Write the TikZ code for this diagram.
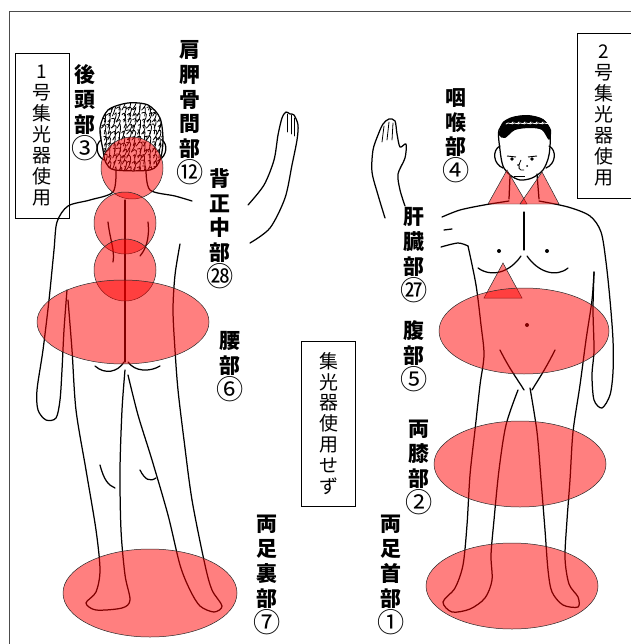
\documentclass[tikz,border=0pt]{standalone}
\usepackage{graphicx}
\usepackage{fontspec}
\newfontfamily\cjk{Noto Sans CJK JP}
\newcommand\maru[1]{\scalebox{1.3}{\mdseries #1}}
\tikzset{
	spot/.style={fill=red, fill opacity=0.5, draw=black!85, line width=0.5pt},
	body/.style={line width=1.25pt, line cap=round, line join=round},
	curl/.style={line width=0.8pt, line cap=round},
	part/.style={anchor=north, font=\cjk\bfseries\fontsize{21}{25}\selectfont, align=center, inner sep=0pt},
	lamp/.style={draw, line width=0.7pt, minimum width=54bp, minimum height=165bp, font=\cjk\fontsize{19}{21}\selectfont, align=center, inner sep=0pt}
}
\begin{document}
\begin{tikzpicture}[x=1bp, y=-1bp]
		%%%%% START %%%%%
		\useasboundingbox (0, 0) rectangle (631, 644);
		\draw[line width=0.8pt, color=black!70] (9, 644) -- (9, 11) -- (631, 11);
		\pgfmathsetseed{17}
		
		%%%%% back view %%%%%
		\draw[body] plot[smooth cycle] coordinates {(103,150) (100,128) (108,110) (128,103) (148,105) (160,118) (163,140) (160,160) (150,170) (115,170) (106,163)};
		\begin{scope}
			\clip plot[smooth cycle] coordinates {(103,150) (100,128) (108,110) (128,103) (148,105) (160,118) (163,140) (160,160) (150,170) (115,170) (106,163)};
			\foreach \x in {98,103,...,164}
				\foreach \y in {102,108,...,172}
					\draw[curl] ({\x+2*rand}, {\y+2*rand}) .. controls ({\x+4+2*rand}, \y-4) and ({\x+3+2*rand}, \y+3) .. ({\x+2*rand}, \y+8);
		\end{scope}
		\draw[body] (101, 140) .. controls (95, 144) and (96, 156) .. (104, 160);
		\draw[body] (162, 140) .. controls (168, 144) and (167, 156) .. (159, 160);
		
		\draw[body] plot[smooth] coordinates {(116,170) (113,192) (90,200) (68,206) (57,222) (54,250) (49,300) (43,350) (37,390) (38,410) (46,420) (56,418) (60,400) (62,370) (64,330) (67,290)};
		\draw[body] plot[smooth] coordinates {(146,170) (150,190) (175,196) (192,201)};
		\draw[body] plot[smooth] coordinates {(180,244) (175,275) (173,310) (175,350) (178,390) (184,440) (192,500) (205,565) (212,590) (222,606) (214,612) (200,606) (190,590) (180,565) (168,515) (152,460) (138,415) (128,375)};
		\draw[body] plot[smooth] coordinates {(68,300) (72,350) (76,410) (86,470) (96,530) (100,570) (96,592) (86,603) (96,610) (122,608) (130,600) (125,575) (121,530) (120,470) (122,410) (125,370)};
		\draw[body] (125, 200) -- (125, 362);
		\draw[body] (95, 366) .. controls (105, 375) and (118, 372) .. (124, 362);
		\draw[body] (128, 362) .. controls (135, 372) and (150, 372) .. (160, 366);
		\draw[body] (108, 222) .. controls (110, 240) and (115, 250) .. (113, 262);
		\draw[body] (148, 222) .. controls (150, 240) and (145, 250) .. (140, 256);
		\draw[body] (100, 465) .. controls (104, 480) and (108, 485) .. (115, 488);
		\draw[body] (140, 470) .. controls (145, 480) and (150, 482) .. (156, 478);
		
		\draw[body] plot[smooth] coordinates {(250,243) (270,228) (285,198) (292,165) (297,140) (298,125) (294,115) (290,114) (286,112) (282,118) (278,135) (274,160) (264,185) (248,205)};
		\draw[curl] (287, 114) -- (287, 132) (291, 115) -- (291, 134) (294, 118) -- (294, 136);
		
		%%%%% front view %%%%%
		\draw[body] plot[smooth cycle] coordinates {(500,150) (499,130) (510,119) (526,116) (543,120) (550,132) (549,155) (543,170) (532,178) (520,180) (510,175) (503,166)};
		\fill plot[smooth cycle] coordinates {(499,135) (502,123) (512,117) (528,115) (543,119) (551,130) (549,140) (542,130) (530,128) (515,130) (505,138)};
		\foreach \x in {506,512,...,542}
			\draw[curl, white] (\x, 124) .. controls (\x+3, 121) and (\x+5, 126) .. (\x+7, 122);
		\draw[body] (500, 146) .. controls (492, 150) and (493, 164) .. (503, 168);
		\draw[body] (549, 146) .. controls (557, 150) and (556, 164) .. (546, 168);
		\draw[line width=0.9pt] (507, 156) -- (516, 157) (528, 157) -- (537, 156);
		\fill (512, 159) circle (1.8) (532, 159) circle (1.8);
		\draw[line width=0.8pt] (521, 160) .. controls (517, 168) and (519, 171) .. (524, 170);
		\fill (518, 165) circle (1) (527, 166) circle (1);
		\draw[line width=0.9pt] (514, 176) -- (525, 176);
		
		\draw[body] (510, 176) -- (509, 199);
		\draw[body] (537, 174) -- (539, 199);
		\draw[body] plot[smooth] coordinates {(509,201) (484,205) (460,210) (442,217)};
		\draw[body] (444, 230) -- (452, 229);
		\draw[body] plot[smooth] coordinates {(441,247) (458,243) (468,246)};
		\draw[body] plot[smooth] coordinates {(539,201) (568,207) (590,216) (601,232) (606,262) (610,300) (613,340) (613,372) (610,395) (602,408) (594,400) (592,375) (594,350) (593,310) (594,272)};
		\draw[body] plot[smooth] coordinates {(468,246) (476,285) (481,325) (484,355) (480,385) (475,430) (470,475) (467,525) (463,565) (455,588) (443,602) (452,612) (470,609) (485,598) (492,580) (491,555) (494,520) (499,470) (506,425) (518,390)};
		\draw[body] plot[smooth] coordinates {(530,388) (537,432) (541,480) (545,530) (548,570) (552,592) (563,605) (578,607) (578,597) (569,584) (565,558) (567,520) (570,480) (573,432) (580,385) (586,340) (592,300) (594,272)};
		\draw[body] (524, 212) -- (524, 250);
		\draw[body] (478, 268) .. controls (492, 278) and (510, 272) .. (521, 256);
		\draw[body] (527, 256) .. controls (538, 272) and (556, 278) .. (568, 268);
		\fill (499, 251) circle (2) (547, 251) circle (2) (527, 325) circle (2);
		\draw[body] (500, 350) .. controls (510, 370) and (518, 380) .. (524, 390);
		\draw[body] (555, 350) .. controls (545, 370) and (538, 380) .. (532, 390);
		
		\draw[body] plot[smooth] coordinates {(385,218) (378,195) (372,172) (373,150) (378,135) (383,124) (389,119) (395,121) (397,134) (400,147) (406,144) (405,158) (398,174) (400,190) (405,206)};
		\draw[curl] (384, 126) -- (382, 142) (389, 122) -- (387, 140) (393, 123) -- (392, 140);
		
		%%%%% spots %%%%%
		\draw[spot] (132, 168) circle (31);
		\draw[spot] (125, 223) circle (31);
		\draw[spot] (125, 270) circle (31);
		\draw[spot] (123, 322) ellipse (86 and 42);
		\draw[spot] (150, 593) ellipse (87 and 44);
		
		\draw[spot] (488, 204) -- (507, 170) -- (527, 204) -- cycle;
		\draw[spot] (520, 204) -- (542, 172) -- (559, 204) -- cycle;
		\draw[spot] (484, 298) -- (503, 263) -- (522, 298) -- cycle;
		\draw[spot] (524, 331) ellipse (85 and 43);
		\draw[spot] (520, 464) ellipse (86 and 43);
		\draw[spot] (512, 586) ellipse (86 and 43);
		
		%%%%% labels %%%%%
		\node[part] (occiput) at (85, 64) {後\\頭\\部\\\maru{③}};
		\node[part] (scapula) at (190, 40) {肩\\胛\\骨\\間\\部\\\maru{⑫}};
		\node[part] (spine) at (220, 168) {背\\正\\中\\部\\\maru{㉘}};
		\node[part] (lumbar) at (230, 331) {腰\\部\\\maru{⑥}};
		\node[part] (soles) at (267, 515) {両\\足\\裏\\部\\\maru{⑦}};
		\node[part] (throat) at (456, 88) {咽\\喉\\部\\\maru{④}};
		\node[part] (liver) at (414, 207) {肝\\臓\\部\\\maru{㉗}};
		\node[part] (belly) at (414, 320) {腹\\部\\\maru{⑤}};
		\node[part] (knees) at (419, 420) {両\\膝\\部\\\maru{②}};
		\node[part] (ankles) at (391, 515) {両\\足\\首\\部\\\maru{①}};
		
		\node[lamp] (lampone) at (42, 135.5) {1\\号\\集\\光\\器\\使\\用};
		\node[lamp] (lamptwo) at (604, 115.5) {2\\号\\集\\光\\器\\使\\用};
		\node[lamp] (nolamp) at (328.5, 423.5) {集\\光\\器\\使\\用\\せ\\ず};
		%%%%% END %%%%%
	\end{tikzpicture}
\end{document}
